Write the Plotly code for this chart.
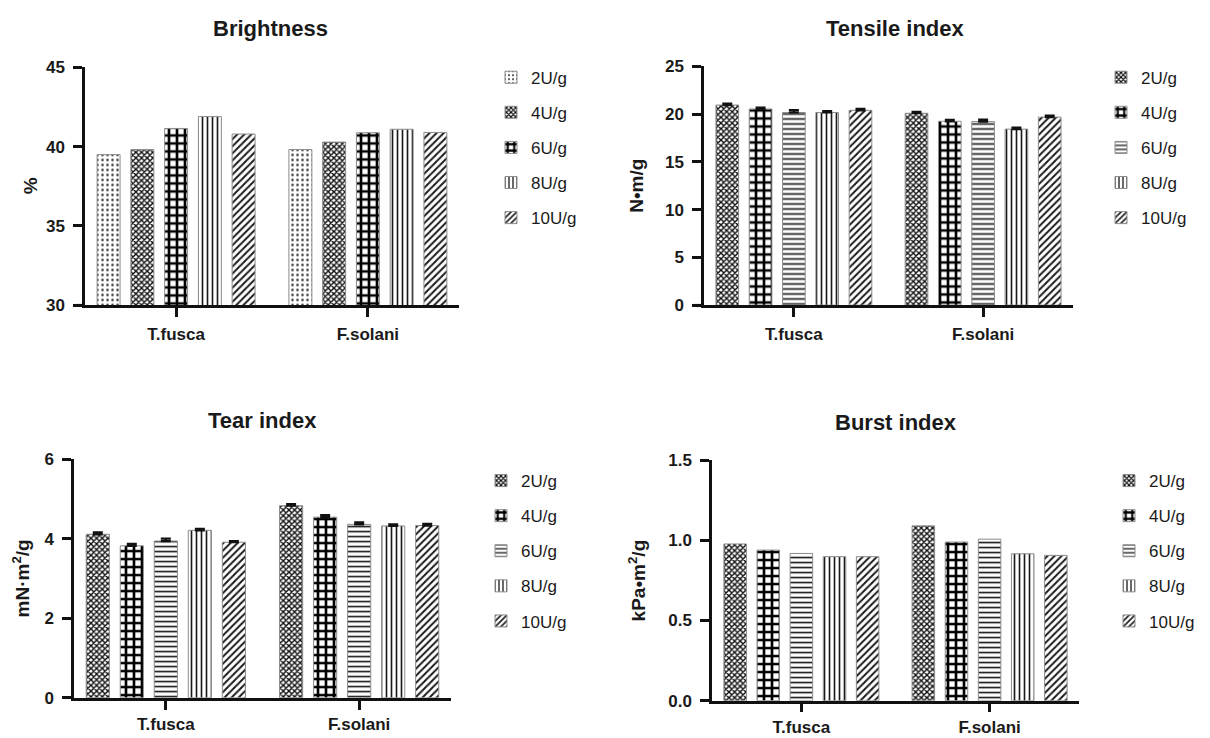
import plotly.graph_objects as go

# ---------------- data ----------------
categories = ["T.fusca", "F.solani"]
doses = ["2U/g", "4U/g", "6U/g", "8U/g", "10U/g"]

brightness_tfusca = [39.5, 39.82, 41.15, 41.9, 40.8]
brightness_fsolani = [39.82, 40.29, 40.88, 41.1, 40.9]

tensile_tfusca = [20.96, 20.55, 20.18, 20.18, 20.41]
tensile_fsolani = [20.1, 19.26, 19.23, 18.44, 19.7]
tensile_err_tfusca = [0.15, 0.15, 0.25, 0.15, 0.15]
tensile_err_fsolani = [0.15, 0.15, 0.2, 0.15, 0.15]

tear_tfusca = [4.11, 3.82, 3.94, 4.21, 3.91]
tear_fsolani = [4.83, 4.54, 4.36, 4.32, 4.33]
tear_err_tfusca = [0.05, 0.05, 0.06, 0.04, 0.03]
tear_err_fsolani = [0.04, 0.05, 0.05, 0.04, 0.04]

burst_tfusca = [0.977, 0.939, 0.918, 0.898, 0.898]
burst_fsolani = [1.09, 0.989, 1.007, 0.916, 0.906]

y_titles = ["%", "N•m/g", "mN·m<sup>2</sup>/g", "kPa•m<sup>2</sup>/g"]
panel_titles = ["Brightness", "Tensile index", "Tear index", "Burst index"]

# ---------------- styles ----------------
W, H = 1210, 738
FONT = "Liberation Sans, Arial, sans-serif"
TXT = "#1a1a1a"

PAT = {
    "dots": dict(shape=".", size=5, solidity=0.2, fgcolor="#333333", bgcolor="white", fgopacity=1),
    "fine": dict(shape="x", size=4, solidity=0.58, fgcolor="#111111", bgcolor="white", fgopacity=1),
    "check": dict(shape="+", size=8, solidity=0.55, fgcolor="#000000", bgcolor="white", fgopacity=1),
    "hline": dict(shape="-", size=5, solidity=0.33, fgcolor="#1a1a1a", bgcolor="white", fgopacity=1),
    "vline": dict(shape="|", size=5, solidity=0.33, fgcolor="#1a1a1a", bgcolor="white", fgopacity=1),
    "diag": dict(shape="/", size=5, solidity=0.4, fgcolor="#1a1a1a", bgcolor="white", fgopacity=1),
}
brightness_patterns = ["dots", "fine", "check", "vline", "diag"]
other_patterns = ["fine", "check", "hline", "vline", "diag"]


def px_x(v):
    return v / W


def px_y(v):
    return 1 - v / H


panels = [
    dict(vals=(brightness_tfusca, brightness_fsolani), err=None, pats=brightness_patterns,
         xd=(85, 459), yd=(60, 304), yr=[30, 45], dtick=5, fmt="",
         ytx=30, legx=491, legy=52, titlex=270, titley=20, standoff=3),
    dict(vals=(tensile_tfusca, tensile_fsolani), err=(tensile_err_tfusca, tensile_err_fsolani),
         pats=other_patterns, xd=(704, 1073), yd=(59, 304), yr=[0, 25], dtick=5, fmt="",
         ytx=637, legx=1101, legy=52, titlex=895, titley=20, standoff=3),
    dict(vals=(tear_tfusca, tear_fsolani), err=(tear_err_tfusca, tear_err_fsolani),
         pats=other_patterns, xd=(74, 451), yd=(462, 707), yr=[0, 6], dtick=2, fmt="",
         ytx=21, legx=481, legy=466, titlex=262, titley=422, standoff=0),
    dict(vals=(burst_tfusca, burst_fsolani), err=None, pats=other_patterns,
         xd=(712, 1079), yd=(463, 710), yr=[0, 1.5], dtick=0.5, fmt=".1f",
         ytx=637, legx=1109, legy=466, titlex=896, titley=424, standoff=0),
]

fig = go.Figure()
layout = dict(
    width=W, height=H, margin=dict(l=0, r=0, t=0, b=0),
    paper_bgcolor="white", plot_bgcolor="white",
    barmode="group", bargap=0.12, bargroupgap=0.32,
    font=dict(family=FONT, color=TXT),
    annotations=[], shapes=[],
)

for p, pn in enumerate(panels):
    sfx = "" if p == 0 else str(p + 1)
    legname = "legend" + sfx
    t_vals, f_vals = pn["vals"]
    for i, dose in enumerate(doses):
        err = None
        if pn["err"] is not None:
            err = dict(type="data", array=[pn["err"][0][i], pn["err"][1][i]],
                       arrayminus=[0, 0], color="#111111", thickness=2.2, width=5)
        fig.add_trace(go.Bar(
            x=categories, y=[t_vals[i], f_vals[i]], name=dose,
            xaxis="x" + sfx, yaxis="y" + sfx,
            legend=legname, legendgroup=f"{p}-{dose}",
            marker=dict(color="white", pattern=PAT[pn["pats"][i]],
                        line=dict(color="#8c8c8c", width=1)),
            error_y=err, showlegend=True,
        ))

    layout["xaxis" + sfx] = dict(
        domain=[px_x(pn["xd"][0]), px_x(pn["xd"][1])], anchor="y" + sfx,
        type="category", range=[-0.475, 1.475],
        showline=True, linecolor="#111111", linewidth=2.5,
        ticks="outside", ticklen=9, tickwidth=2.5, tickcolor="#111111",
        tickfont=dict(size=17, weight="bold", color=TXT),
        ticklabelstandoff=pn["standoff"],
        showgrid=False, zeroline=False, fixedrange=True,
    )
    layout["yaxis" + sfx] = dict(
        domain=[px_y(pn["yd"][1]), px_y(pn["yd"][0])], anchor="x" + sfx,
        range=pn["yr"], dtick=pn["dtick"], tick0=0, tickformat=pn["fmt"],
        showline=True, linecolor="#111111", linewidth=2.5,
        ticks="outside", ticklen=9, tickwidth=2.5, tickcolor="#111111",
        tickfont=dict(size=17, weight="bold", color=TXT),
        ticklabelstandoff=5,
        showgrid=False, zeroline=False, fixedrange=True,
    )
    layout[legname] = dict(
        x=px_x(pn["legx"]), y=px_y(pn["legy"]), xanchor="left", yanchor="top",
        font=dict(size=17, color=TXT), tracegroupgap=10, itemwidth=30,
        bgcolor="rgba(0,0,0,0)", borderwidth=0,
    )
    layout["annotations"].append(dict(
        text=panel_titles[p], x=px_x(pn["titlex"]), y=px_y(pn["titley"]),
        xref="paper", yref="paper", xanchor="center", yanchor="middle", showarrow=False,
        font=dict(size=22, weight="bold", color=TXT),
    ))
    layout["annotations"].append(dict(
        text=y_titles[p], x=px_x(pn["ytx"]), y=px_y((pn["yd"][0] + pn["yd"][1]) / 2),
        xref="paper", yref="paper", xanchor="center", yanchor="middle",
        showarrow=False, textangle=-90,
        font=dict(size=19, weight="bold", color=TXT),
    ))
    # short extension of the x-axis line to the left of the y-axis
    layout["shapes"].append(dict(
        type="line", xref="paper", yref="paper",
        x0=px_x(pn["xd"][0] - 10), x1=px_x(pn["xd"][0]),
        y0=px_y(pn["yd"][1]), y1=px_y(pn["yd"][1]),
        line=dict(color="#111111", width=2.5),
    ))

fig.update_layout(**layout)
fig.write_html("out.html")
